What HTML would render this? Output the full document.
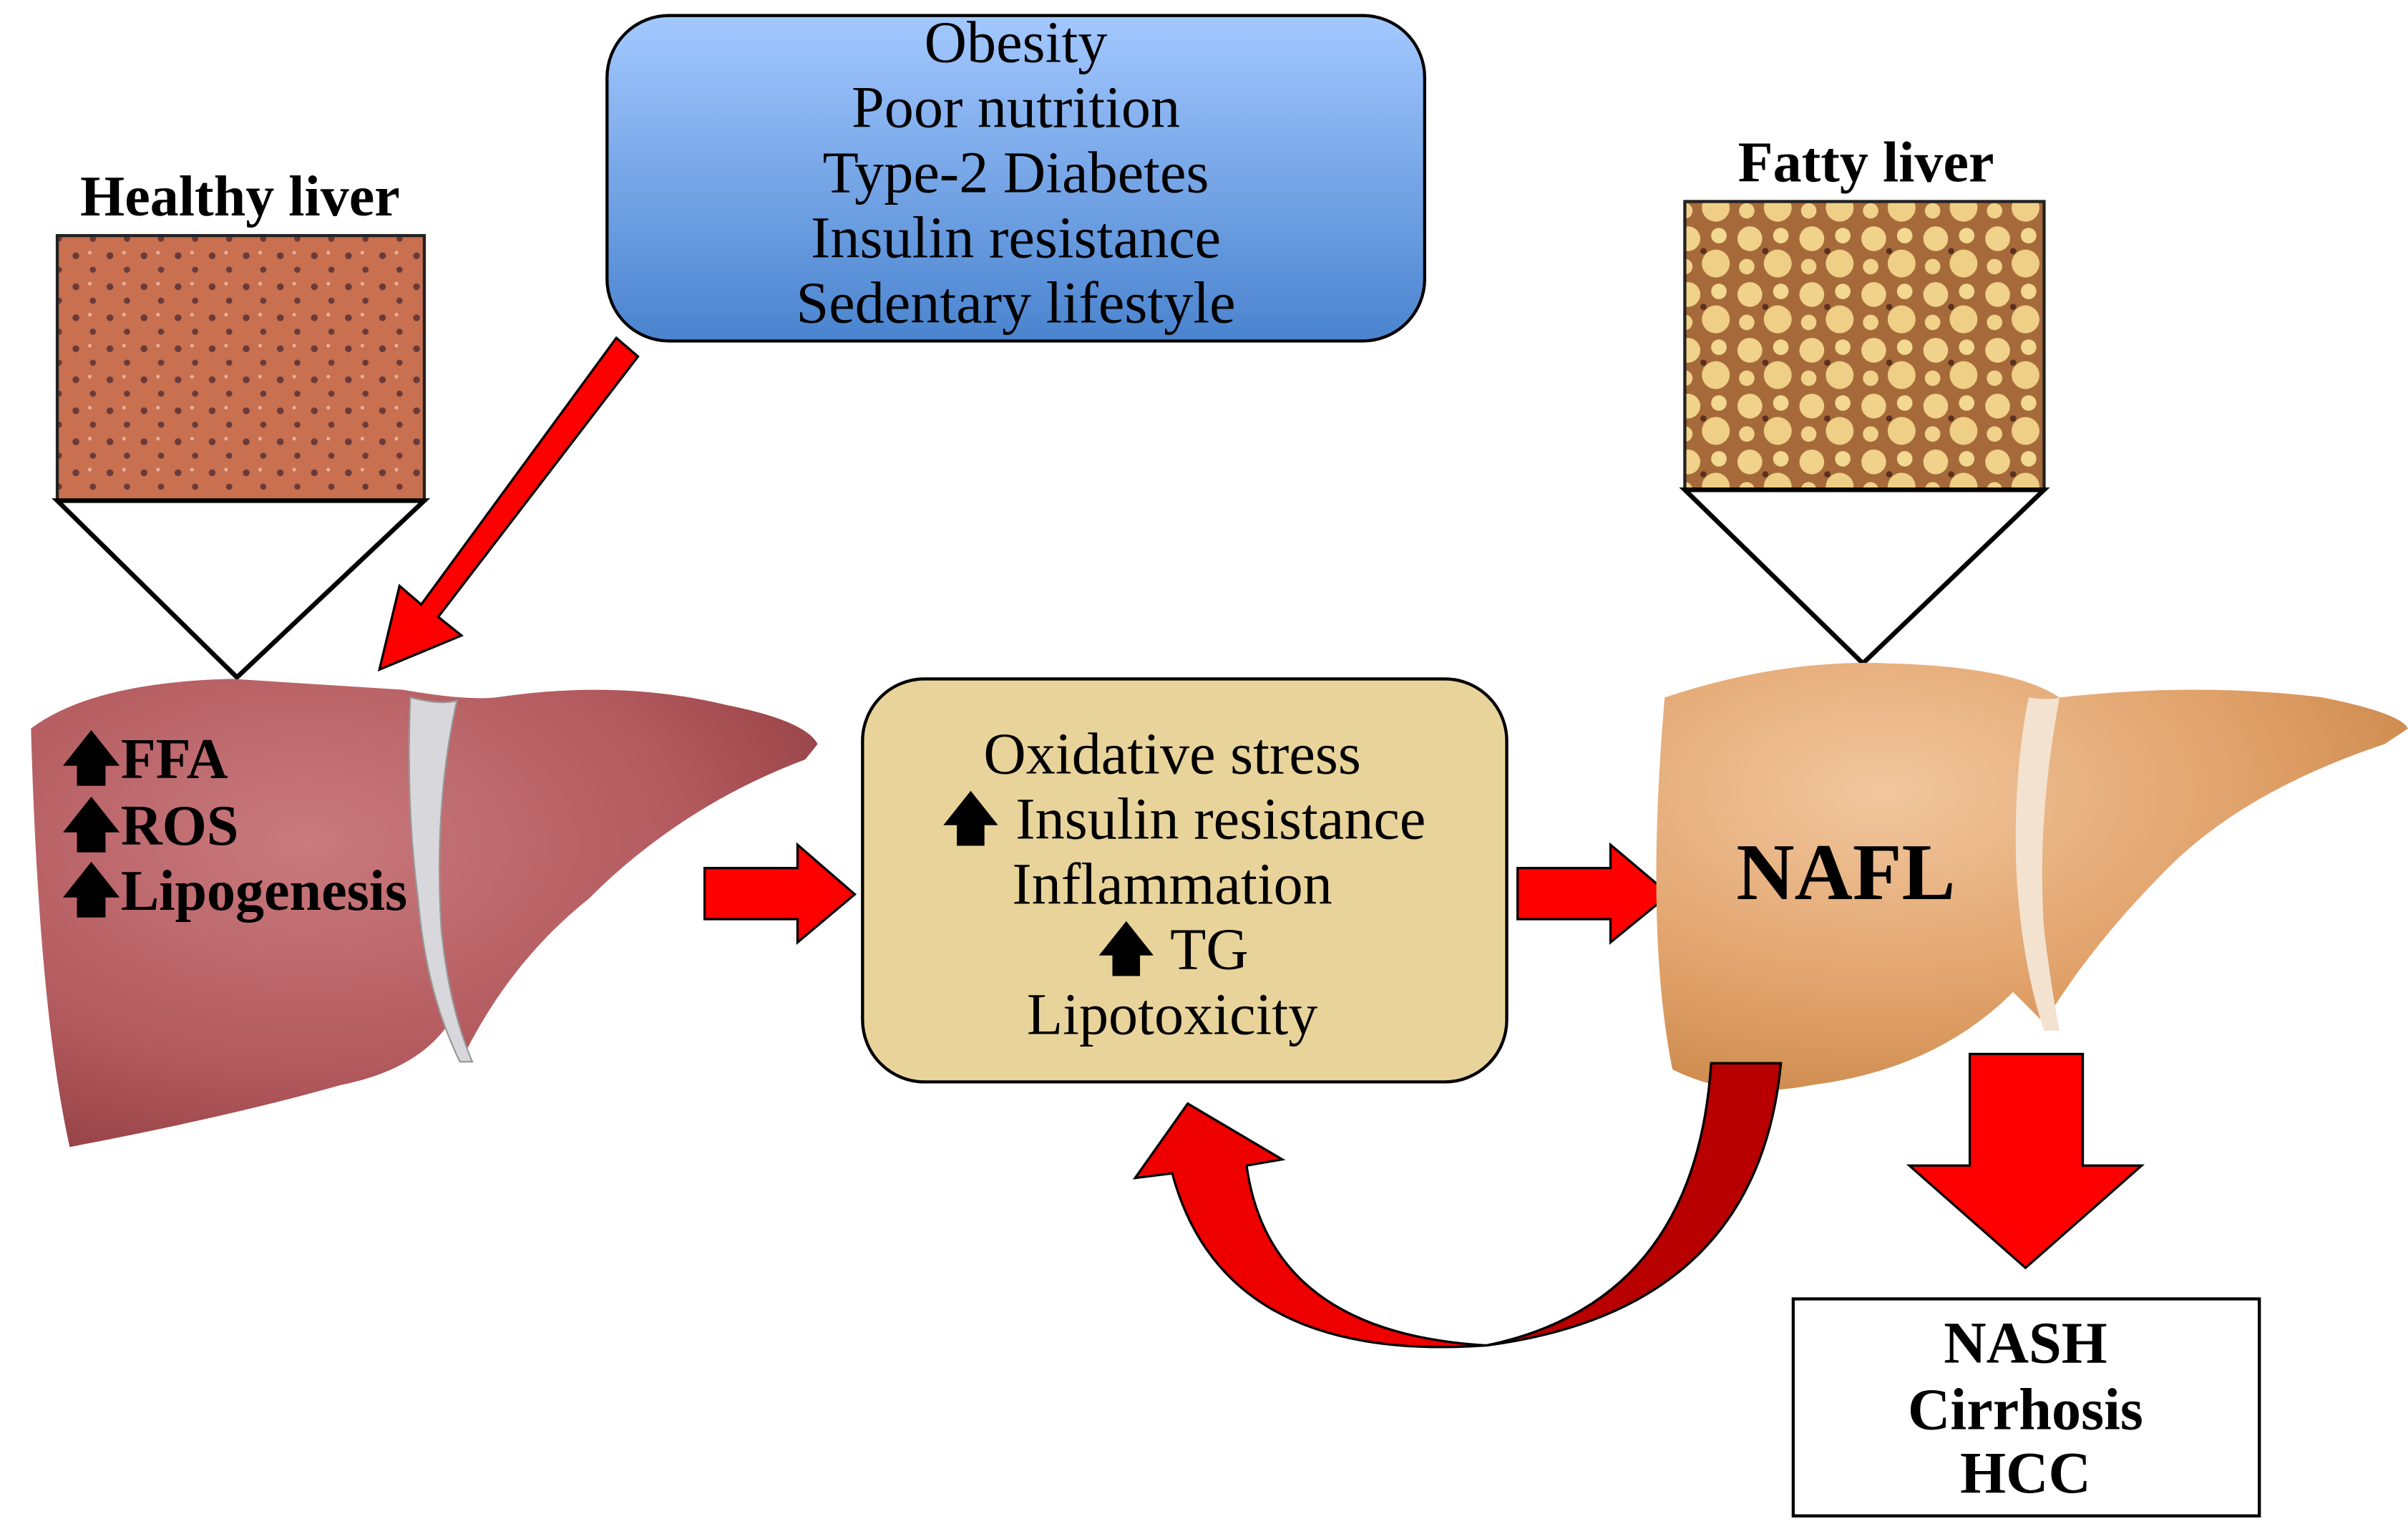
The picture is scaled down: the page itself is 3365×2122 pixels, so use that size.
<!DOCTYPE html>
<html><head><meta charset="utf-8"><style>
html,body{margin:0;padding:0;background:#fff;}
svg{display:block;}
text{font-family:"Liberation Serif",serif;}
</style></head><body>
<svg width="3365" height="2122" viewBox="0 0 1555 980" preserveAspectRatio="none" xmlns="http://www.w3.org/2000/svg">
<defs>
<linearGradient id="blue" x1="0" y1="0" x2="0" y2="1">
<stop offset="0" stop-color="#a3c8ff"/><stop offset="1" stop-color="#4a84cf"/></linearGradient>
<radialGradient id="hl" cx="0.35" cy="0.35" r="0.8">
<stop offset="0" stop-color="#c97a7e"/><stop offset="0.6" stop-color="#b35a5e"/><stop offset="1" stop-color="#8e3c40"/></radialGradient>
<radialGradient id="fl" cx="0.3" cy="0.3" r="0.8">
<stop offset="0" stop-color="#f1c79e"/><stop offset="0.6" stop-color="#e1a26b"/><stop offset="1" stop-color="#c98647"/></radialGradient>
<pattern id="hdots" width="22" height="20" patternUnits="userSpaceOnUse">
<rect width="22" height="20" fill="#c8704f"/>
<circle cx="5" cy="5" r="2.2" fill="#6a3a3a"/><circle cx="16" cy="14" r="2" fill="#6a3a3a"/>
<circle cx="14" cy="3" r="1.2" fill="#e8b0a0"/></pattern>
<pattern id="fdots" width="40" height="36" patternUnits="userSpaceOnUse">
<rect width="40" height="36" fill="#a66a3a"/>
<circle cx="10" cy="10" r="8" fill="#f0d28a"/><circle cx="30" cy="8" r="5" fill="#f2d890"/>
<circle cx="28" cy="26" r="9" fill="#eecf85"/><circle cx="8" cy="28" r="5" fill="#f0d28a"/>
<circle cx="20" cy="18" r="2" fill="#5a3020"/></pattern>
</defs>
<rect width="1555" height="980" fill="#fff"/>

<!-- healthy liver -->
<text x="155" y="139" font-size="37" font-weight="bold" text-anchor="middle">Healthy liver</text>
<rect x="37" y="152" width="237" height="171" fill="url(#hdots)" stroke="#222" stroke-width="2"/>
<polygon points="37,323 274,323 153,437" fill="#fff" stroke="#000" stroke-width="3"/>
<path d="M20,470 Q60,440 150,438 L260,445 Q300,452 320,450 Q400,438 470,455 Q520,465 528,480 L520,490 Q440,520 380,580 Q330,620 300,680 L290,660 Q270,690 220,700 Q150,720 45,740 Q25,650 20,470 Z" fill="url(#hl)"/>
<path d="M265,450 Q285,455 295,452 Q280,520 285,600 Q290,650 305,685 L297,685 Q275,640 270,580 Q262,520 265,450 Z" fill="#d8d8dc" stroke="#999" stroke-width="1"/>
<text x="40" y="502" font-size="37" font-weight="bold">🡅FFA</text>
<text x="40" y="545" font-size="37" font-weight="bold">🡅ROS</text>
<text x="40" y="587" font-size="37" font-weight="bold">🡅Lipogenesis</text>

<!-- top box -->
<rect x="392" y="10" width="528" height="210" rx="40" fill="url(#blue)" stroke="#000" stroke-width="2"/>
<g font-size="38" text-anchor="middle">
<text x="656" y="40">Obesity</text>
<text x="656" y="82">Poor nutrition</text>
<text x="656" y="124">Type-2 Diabetes</text>
<text x="656" y="166">Insulin resistance</text>
<text x="656" y="208">Sedentary lifestyle</text>
</g>
<!-- diagonal arrow -->
<polygon points="398,218 412,230 283,398 298,410 245,432 258,378 272,390 398,218" fill="#f00" stroke="#000" stroke-width="1.5"/>

<!-- right arrows -->
<polygon points="455,560 515,560 515,545 552,577 515,608 515,593 455,593" fill="#f00" stroke="#000" stroke-width="1.5"/>
<polygon points="980,560 1040,560 1040,545 1078,577 1040,608 1040,593 980,593" fill="#f00" stroke="#000" stroke-width="1.5"/>

<!-- middle box -->
<rect x="557" y="438" width="416" height="260" rx="40" fill="#e8d49a" stroke="#000" stroke-width="2"/>
<g font-size="38" text-anchor="middle">
<text x="757" y="499">Oxidative stress</text>
<text x="764" y="541">🡅 Insulin resistance</text>
<text x="757" y="583">Inflammation</text>
<text x="757" y="625">🡅 TG</text>
<text x="757" y="667">Lipotoxicity</text>
</g>

<!-- fatty liver -->
<text x="1205" y="117" font-size="37" font-weight="bold" text-anchor="middle">Fatty liver</text>
<rect x="1088" y="130" width="232" height="186" fill="url(#fdots)" stroke="#222" stroke-width="2"/>
<polygon points="1088,316 1320,316 1203,428" fill="#fff" stroke="#000" stroke-width="3"/>
<path d="M1075,450 Q1150,425 1220,428 Q1300,430 1330,450 Q1420,440 1500,450 Q1550,460 1555,470 L1540,480 Q1450,510 1400,560 Q1350,610 1320,660 L1300,640 Q1250,690 1170,700 Q1120,710 1080,690 Q1062,600 1075,450 Z" fill="url(#fl)"/>
<path d="M1310,450 Q1325,452 1330,450 Q1315,530 1320,600 Q1325,640 1330,665 L1320,665 Q1305,620 1302,560 Q1300,500 1310,450 Z" fill="#f3e2cf"/>
<text x="1192" y="580" font-size="52" font-weight="bold" text-anchor="middle">NAFL</text>

<!-- curved arrow -->
<path d="M1105,686 L1150,686 Q1135,845 960,868 Q820,860 805,752 L828,748 L767,712 L733,760 L757,757 Q790,880 960,868 Q1095,840 1105,686 Z" fill="#e00" stroke="#000" stroke-width="1.5"/>
<path d="M1105,686 L1150,686 Q1135,845 960,868 Q1095,840 1105,686 Z" fill="#b80000" stroke="#000" stroke-width="1.5"/>

<!-- down arrow -->
<polygon points="1272,680 1345,680 1345,752 1383,752 1308,818 1233,752 1272,752" fill="#f00" stroke="#000" stroke-width="1.5"/>
<rect x="1158" y="838" width="301" height="140" fill="#fff" stroke="#000" stroke-width="2"/>
<g font-size="38" font-weight="bold" text-anchor="middle">
<text x="1308" y="879">NASH</text>
<text x="1308" y="922">Cirrhosis</text>
<text x="1308" y="963">HCC</text>
</g>
</svg>
</body></html>
